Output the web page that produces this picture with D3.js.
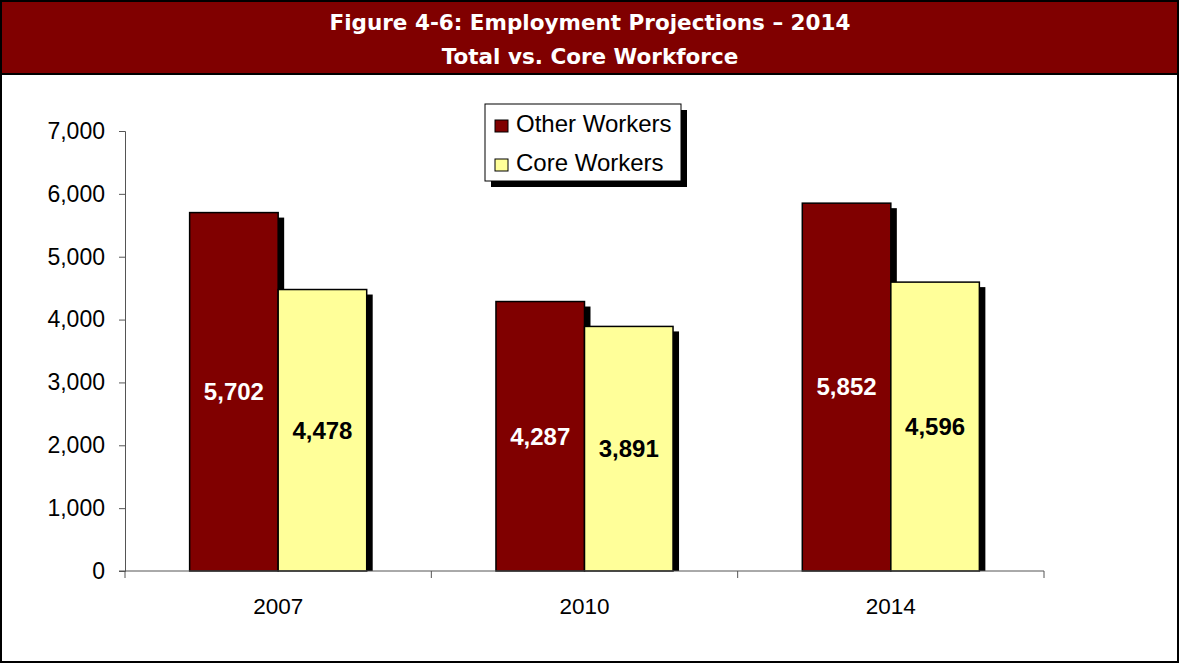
<!DOCTYPE html>
<html>
<head>
<meta charset="utf-8">
<script src="https://cdn.jsdelivr.net/npm/d3@7"></script>
<style>
  html, body { margin: 0; padding: 0; background: #fff; }
  svg { display: block; }
</style>
</head>
<body>
<svg id="chart" width="1180" height="665"></svg>
<script>
// Employment data (thousands of workers)
const years = ["2007", "2010", "2014"];
const seriesNames = ["Other Workers", "Core Workers"];
const otherWorkers = [5702, 4287, 5852];
const coreWorkers = [4478, 3891, 4596];
const yTicks = [0, 1000, 2000, 3000, 4000, 5000, 6000, 7000];
const titleLines = ["Figure 4-6: Employment Projections \u2013 2014", "Total vs. Core Workforce"];

const W = 1180, H = 665;
const svg = d3.select("#chart");
const colors = { other: "#800000", core: "#FFFF99", band: "#800000" };
const sans = "Liberation Sans, Arial, sans-serif";

// Outer frame and title band
svg.append("rect").attr("x", 1).attr("y", 1).attr("width", W - 3).attr("height", H - 4)
  .attr("fill", "#fff").attr("stroke", "#000").attr("stroke-width", 2);
svg.append("rect").attr("x", 1).attr("y", 1).attr("width", W - 3).attr("height", 73)
  .attr("fill", colors.band).attr("stroke", "#000").attr("stroke-width", 2);

svg.selectAll("text.title").data(titleLines).join("text")
  .attr("class", "title")
  .attr("x", 590).attr("y", (d, i) => 30 + i * 34)
  .attr("text-anchor", "middle")
  .attr("fill", "#fff")
  .attr("font-family", "DejaVu Sans, Verdana, sans-serif")
  .attr("font-weight", "bold")
  .attr("font-size", 21.5)
  .text(d => d);

// Plot area
const m = { left: 125, right: 1044, top: 131, bottom: 571 };
const x0 = d3.scaleBand().domain(years).range([m.left, m.right]).paddingInner(0).paddingOuter(0);
const x1 = d3.scaleBand().domain(seriesNames).range([0, x0.bandwidth()]).paddingInner(0).paddingOuter(0.73);
const y = d3.scaleLinear().domain([0, 7000]).range([m.bottom, m.top]);

const rows = years.map((yr, i) => ({ year: yr, values: [
  { key: seriesNames[0], value: otherWorkers[i], fill: colors.other, label: "#fff" },
  { key: seriesNames[1], value: coreWorkers[i], fill: colors.core, label: "#000" }
]}));

// Bar shadows, clipped at the baseline
svg.append("clipPath").attr("id", "plotClip").append("rect")
  .attr("x", m.left).attr("y", 0).attr("width", m.right - m.left).attr("height", m.bottom);

const groups = svg.selectAll("g.grp").data(rows).join("g")
  .attr("class", "grp")
  .attr("transform", d => `translate(${x0(d.year)},0)`);

groups.append("g").attr("clip-path", "url(#plotClip)")
  .attr("transform", d => `translate(${-x0(d.year)},0)`)
  .selectAll("rect").data(d => d.values.map(v => ({ ...v, year: d.year }))).join("rect")
  .attr("x", d => x0(d.year) + x1(d.key) + 6)
  .attr("y", d => y(d.value) + 5)
  .attr("width", x1.bandwidth())
  .attr("height", d => m.bottom - y(d.value))
  .attr("fill", "#000");

groups.selectAll("rect.bar").data(d => d.values).join("rect")
  .attr("class", "bar")
  .attr("x", d => x1(d.key))
  .attr("y", d => y(d.value))
  .attr("width", x1.bandwidth())
  .attr("height", d => m.bottom - y(d.value))
  .attr("fill", d => d.fill)
  .attr("stroke", "#000").attr("stroke-width", 1.5);

groups.selectAll("text.val").data(d => d.values).join("text")
  .attr("class", "val")
  .attr("x", d => x1(d.key) + x1.bandwidth() / 2)
  .attr("y", d => (y(d.value) + m.bottom) / 2)
  .attr("dy", "0.35em")
  .attr("text-anchor", "middle")
  .attr("fill", d => d.label)
  .attr("font-family", sans)
  .attr("font-weight", "bold")
  .attr("font-size", 24)
  .text(d => d3.format(",")(d.value));

// Axes
const yAxis = d3.axisLeft(y).tickValues(yTicks).tickFormat(d3.format(",")).tickSize(6).tickPadding(14);
const yg = svg.append("g").attr("transform", `translate(${m.left},0)`).call(yAxis);
yg.select(".domain").attr("stroke", "#555");
yg.selectAll(".tick line").attr("stroke", "#555");
yg.selectAll(".tick text").attr("font-family", sans)
  .attr("font-size", 23).attr("fill", "#000");

const xg = svg.append("g").attr("transform", `translate(0,${m.bottom})`);
xg.append("line").attr("x1", m.left - 6).attr("x2", m.right).attr("y1", 0).attr("y2", 0).attr("stroke", "#555");
const xTickPos = years.map(yr => x0(yr)).concat([m.right]);
xg.selectAll("line.tk").data(xTickPos).join("line")
  .attr("class", "tk").attr("x1", d => d).attr("x2", d => d)
  .attr("y1", 0).attr("y2", 7).attr("stroke", "#555");
xg.selectAll("text").data(years).join("text")
  .attr("x", d => x0(d) + x0.bandwidth() / 2)
  .attr("y", 43)
  .attr("text-anchor", "middle")
  .attr("font-family", sans)
  .attr("font-size", 22.5)
  .text(d => d);

// Legend
const lg = svg.append("g").attr("transform", "translate(485,104)");
lg.append("rect").attr("x", 6).attr("y", 6).attr("width", 196).attr("height", 77).attr("fill", "#000");
lg.append("rect").attr("x", 0).attr("y", 0).attr("width", 196).attr("height", 77)
  .attr("fill", "#fff").attr("stroke", "#000").attr("stroke-width", 1);
const items = lg.selectAll("g.item").data([
  { name: seriesNames[0], fill: colors.other },
  { name: seriesNames[1], fill: colors.core }
]).join("g").attr("class", "item")
  .attr("transform", (d, i) => `translate(0,${21 + i * 39})`);
items.append("rect").attr("x", 10).attr("y", -5).attr("width", 13).attr("height", 12)
  .attr("fill", d => d.fill).attr("stroke", "#000").attr("stroke-width", 1);
items.append("text").attr("x", 31).attr("y", 7)
  .attr("font-family", sans)
  .attr("font-size", 24)
  .text(d => d.name);
</script>
</body>
</html>
